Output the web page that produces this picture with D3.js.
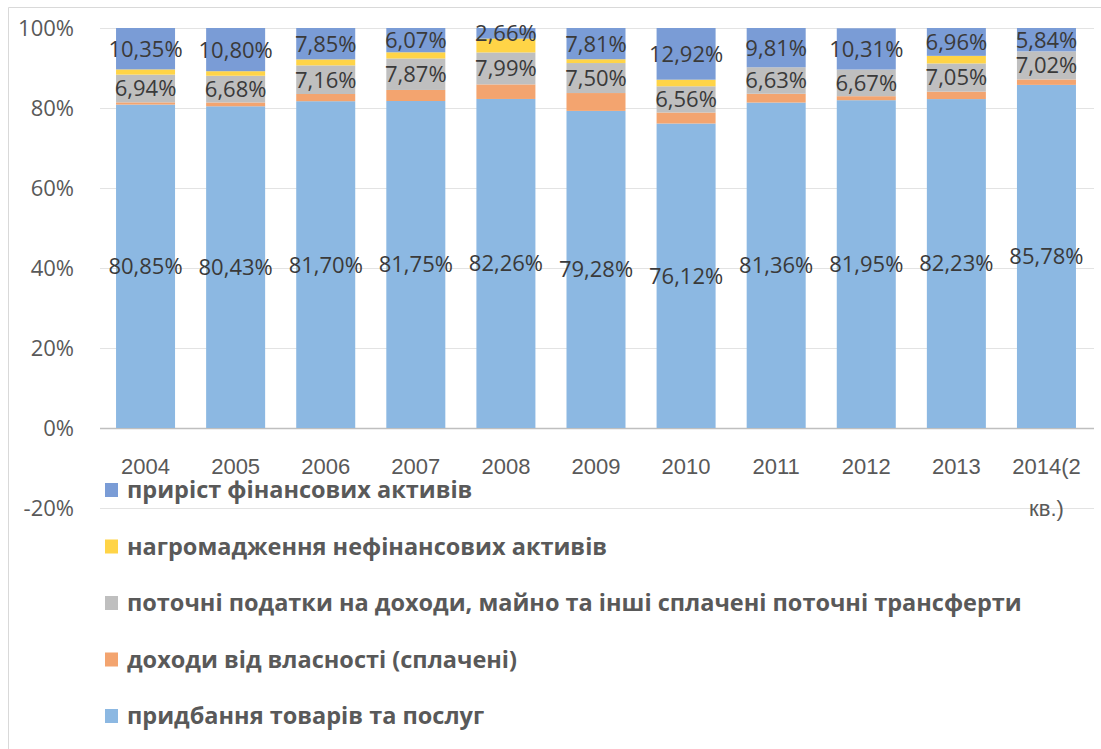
<!DOCTYPE html>
<html>
<head>
<meta charset="utf-8">
<script src="https://cdn.jsdelivr.net/npm/d3@7"></script>
<style>
    body { margin: 0; background: #fff; }
    svg { display: block; font-family: 'Open Sans', sans-serif; }
</style>
</head>
<body>
<div id="chart"></div>
<script>
// categories
const years = ['2004', '2005', '2006', '2007', '2008', '2009', '2010', '2011', '2012', '2013', '2014(2 кв.)'];

// series values, % (unlabelled ones estimated)
const goods = [80.85, 80.43, 81.70, 81.75, 82.26, 79.28, 76.12, 81.36, 81.95, 82.23, 85.78];
const property = [0.56, 0.95, 1.80, 2.76, 3.64, 4.46, 2.75, 2.20, 1.00, 1.86, 1.36];
const taxes = [6.94, 6.68, 7.16, 7.87, 7.99, 7.50, 6.56, 6.63, 6.67, 7.05, 7.02];
const nonFinancial = [1.30, 1.14, 1.49, 1.55, 3.45, 0.95, 1.65, 0, 0, 1.90, 0];
const financial = [10.35, 10.80, 7.85, 6.07, 2.66, 7.81, 12.92, 9.81, 10.31, 6.96, 5.84];

// series names, bottom to top of the stack
const seriesNames = [
    'придбання товарів та послуг',
    'доходи від власності (сплачені)',
    'поточні податки на доходи, майно та інші сплачені поточні трансферти',
    'нагромадження нефінансових активів',
    'приріст фінансових активів'
];
const seriesValues = [goods, property, taxes, nonFinancial, financial];
const labelled = [true, false, true, false, true];
const colors = ['#8cb8e2', '#f3a46f', '#bfbfbf', '#ffd447', '#7a9cd6'];

const yTicks = [-20, 0, 20, 40, 60, 80, 100];

const width = 1101, height = 749;
const svg = d3.select('#chart').append('svg')
    .attr('width', width).attr('height', height);

// chart area frame
svg.append('path')
    .attr('d', `M8.5,${height} V7.5 H${width}`)
    .attr('fill', 'none')
    .attr('stroke', '#d9d9d9');

const table = years.map((y, i) => {
    let row = { year: y };
    seriesNames.forEach((s, j) => row[s] = seriesValues[j][i]);
    return row;
});
const stacked = d3.stack().keys(seriesNames)(table);

const x = d3.scaleBand(years, [100.5, 1091.5])
    .paddingInner(0.345).paddingOuter(0.1725);
const y = d3.scaleLinear([-20, 100], [508, 28]);

// gridlines
const grid = svg.append('g')
    .attr('transform', 'translate(100,0)')
    .call(d3.axisLeft(y).tickValues(yTicks).tickSize(-994).tickFormat(''));
grid.select('.domain').remove();
grid.selectAll('line')
    .attr('stroke', d => d === 0 ? '#bfbfbf' : '#e3e3e3')
    .attr('stroke-width', d => d === 0 ? 1.5 : 1);

// y axis labels
const axisY = svg.append('g')
    .attr('transform', 'translate(74,0)')
    .call(d3.axisLeft(y).tickValues(yTicks).tickSize(0).tickFormat(d => d + '%'));
axisY.select('.domain').remove();
axisY.selectAll('text')
    .attr('x', 0)
    .attr('fill', '#595959')
    .style('font-size', '22px')
    .style('font-family', "'Open Sans', sans-serif");

// bars
svg.append('g').selectAll('g')
    .data(stacked)
    .join('g')
    .attr('fill', (d, i) => colors[i])
    .selectAll('rect')
    .data(d => d)
    .join('rect')
    .attr('x', d => x(d.data.year))
    .attr('width', x.bandwidth())
    .attr('y', d => y(d[1]))
    .attr('height', d => y(d[0]) - y(d[1]));

// data labels
const fmt = v => v.toFixed(2).replace('.', ',') + '%';
svg.append('g').selectAll('g')
    .data(stacked.filter((d, i) => labelled[i]))
    .join('g')
    .selectAll('text')
    .data(d => d)
    .join('text')
    .attr('x', d => x(d.data.year) + x.bandwidth() / 2)
    .attr('y', d => (y(d[0]) + y(d[1])) / 2)
    .attr('dy', '0.36em')
    .attr('text-anchor', 'middle')
    .attr('fill', '#3a3a3a')
    .style('font-size', '22px')
    .text(d => fmt(d[1] - d[0]));

// x axis labels
const axisX = svg.append('g')
    .attr('transform', 'translate(0,428)')
    .call(d3.axisBottom(x).tickSize(0).tickFormat(''));
axisX.select('.domain').remove();
axisX.selectAll('.tick').append('text')
    .attr('fill', '#595959')
    .attr('text-anchor', 'middle')
    .style('font-size', '22px')
    .selectAll('tspan')
    .data(d => d.split(' '))
    .join('tspan')
    .attr('x', 0)
    .attr('y', (d, i) => 46 + i * 42)
    .text(d => d);

// legend, top series first
const legend = svg.append('g')
    .selectAll('g')
    .data(seriesNames.map((s, i) => ({ name: s, color: colors[i] })).reverse())
    .join('g')
    .attr('transform', (d, i) => `translate(105,${490 + i * 56.5})`);
legend.append('rect')
    .attr('x', 0).attr('y', -7)
    .attr('width', 13).attr('height', 14)
    .attr('fill', d => d.color);
legend.append('text')
    .attr('x', 22)
    .attr('dy', '0.36em')
    .attr('fill', '#595959')
    .style('font-size', '23.5px')
    .style('font-weight', 'bold')
    .text(d => d.name);
</script>
</body>
</html>
